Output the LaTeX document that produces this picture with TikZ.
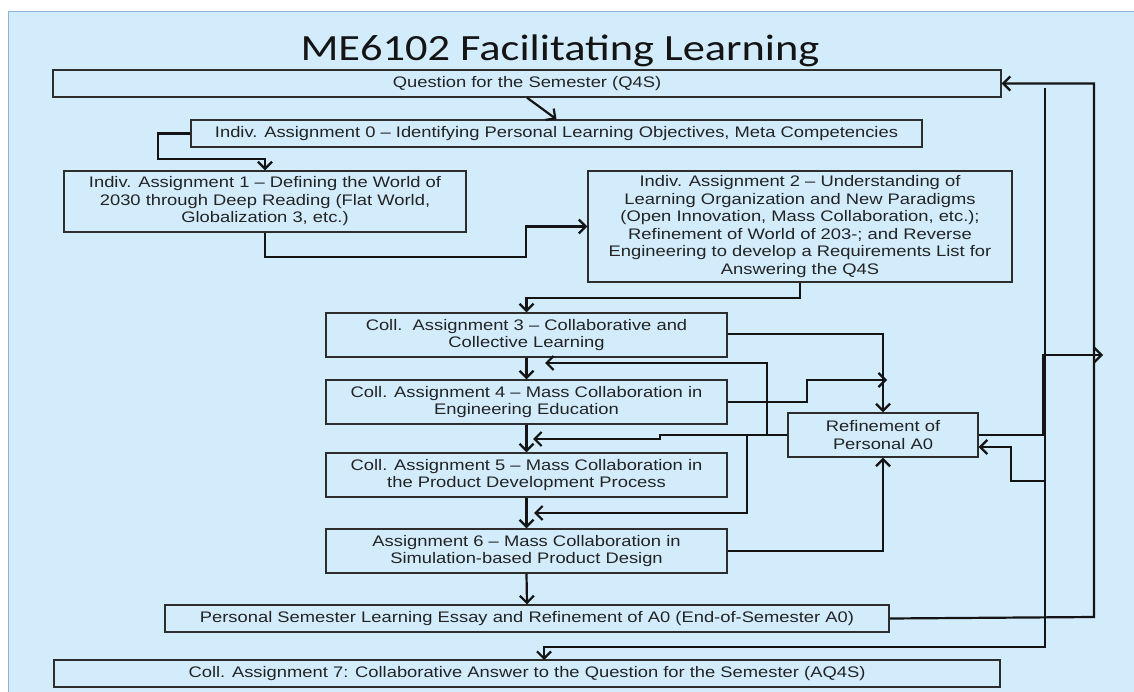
\documentclass[tikz,border=0pt]{standalone}
\usepackage{fontspec}
\setmainfont{Liberation Sans}
\newfontfamily\boxfont[FakeStretch=1.2]{Liberation Sans}
\newfontfamily\titlefont[FakeStretch=1.2]{Carlito}
\usetikzlibrary{arrows.meta}
\definecolor{panel}{RGB}{210,236,252}
\definecolor{panelborder}{RGB}{140,178,218}
\definecolor{boxline}{RGB}{45,45,45}
\definecolor{boxtext}{RGB}{35,35,35}
\tikzset{
  box/.style={draw=boxline, line width=1.4pt, inner sep=0pt, align=center,
    font=\boxfont\fontsize{15.3}{17.5}\selectfont, text=boxtext},
  conn/.style={line width=2.2pt, draw=black!92},
  arr/.style={conn, -{Straight Barb[length=7pt,width=14pt]}},
}
\begin{document}
\begin{tikzpicture}[x=1pt,y=-1pt]
\useasboundingbox (0,0) rectangle (1134,692);
\fill[white] (0,0) rectangle (1134,692);
\fill[panel] (8.7,11.7) rectangle (1134,692);
\draw[panelborder, line width=1pt] (8.7,692) -- (8.7,11.7) -- (1134,11.7);

\node[font=\titlefont\fontsize{37}{42}\selectfont, text=black!92, anchor=base] (title) at (560,61) {ME6102 Facilitating Learning};

\node[box, minimum width=948pt, minimum height=27pt] (q4s) at (527,83.5) {Question for the Semester (Q4S)};
\node[box, minimum width=731pt, minimum height=27pt] (a0) at (556.5,133.5) {Indiv. Assignment 0 – Identifying Personal Learning Objectives, Meta Competencies};
\node[box, minimum width=402pt, minimum height=61pt] (a1) at (265,201.5) {Indiv. Assignment 1 – Defining the World of\\2030 through Deep Reading (Flat World,\\Globalization 3, etc.)};
\node[box, minimum width=424pt, minimum height=111pt] (a2) at (800,226.5) {Indiv. Assignment 2 – Understanding of\\Learning Organization and New Paradigms\\(Open Innovation, Mass Collaboration, etc.);\\Refinement of World of 203-; and Reverse\\Engineering to develop a Requirements List for\\Answering the Q4S};
\node[box, minimum width=401pt, minimum height=44pt] (a3) at (526.5,335) {Coll.\ \ Assignment 3 – Collaborative and\\Collective Learning};
\node[box, minimum width=401pt, minimum height=44pt] (a4) at (526.5,402) {Coll. Assignment 4 – Mass Collaboration in\\Engineering Education};
\node[box, minimum width=401pt, minimum height=44pt] (a5) at (526.5,475) {Coll. Assignment 5 – Mass Collaboration in\\the Product Development Process};
\node[box, minimum width=401pt, minimum height=44pt] (a6) at (526.5,551) {Assignment 6 – Mass Collaboration in\\Simulation-based Product Design};
\node[box, minimum width=190pt, minimum height=44pt] (ref) at (883,435) {Refinement of\\Personal A0};
\node[box, minimum width=724pt, minimum height=27pt] (essay) at (527,618.5) {Personal Semester Learning Essay and Refinement of A0 (End-of-Semester A0)};
\node[box, minimum width=946pt, minimum height=27pt] (a7) at (527,673.5) {Coll. Assignment 7: Collaborative Answer to the Question for the Semester (AQ4S)};

\coordinate (lefttop) at (1045,88);
\coordinate (j1) at (887,380);
\coordinate (out) at (1103,355);

% main chain
\draw[arr] (q4s.south) -- (a0.north);
\draw[arr] (a0.west) -| (158,159) -| (a1.north);
\draw[arr] (a1.south) |- (526,257) |- (a2.west);
\draw[arr] (a2.south) -- ++(0,15) -| (a3.north);
\draw[arr] (a3.south) -- (a4.north);
\draw[arr] (a4.south) -- (a5.north);
\draw[arr] (a5.south) -- (a6.north);
\draw[arr] (a6.south) -- (essay.north);

% to refinement
\draw[arr] (a3.east |- 0,334) -| (ref.north);
\draw[arr] (a4.east) -- (807,402) |- (j1);
\draw[arr] (a6.east) -| (ref.south);

% from refinement back to chain
\draw[arr] (ref.west) -- (767,435) |- (545,363);
\draw[arr] (ref.west) -- (660,435) -- (660,439) -- (533,439);
\draw[arr] (ref.west) -| (747,513) -- (534,513);

% right side
\draw[arr] (ref.east) -- (1043,435) -- (1043,355) -- (out);
\draw[arr] (lefttop) -- (1045,647) -- (544,647) -- (544,660);
\draw[arr] (1045,481) -- (1011,481) -- (1011,447) -- (ref.east |- 0,447);
\draw[arr] (essay.east) -- (1094,617) -- (1094,83.5) -- (q4s.east);
\end{tikzpicture}
\end{document}
